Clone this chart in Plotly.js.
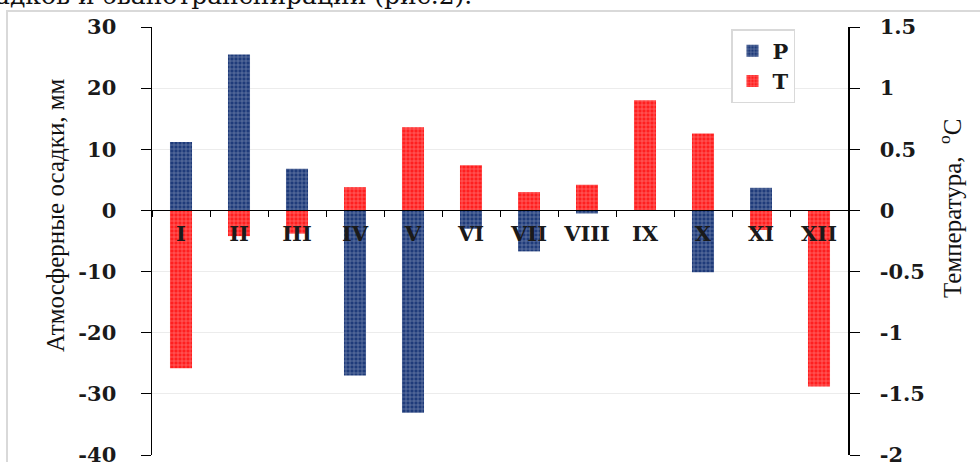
<!DOCTYPE html>
<html>
<head>
<meta charset="utf-8">
<script src="https://cdn.plot.ly/plotly-3.0.1.min.js"></script>
<style>html,body{margin:0;padding:0;background:#fff;}#chart{width:980px;height:462px;}</style>
</head>
<body>
<div id="chart"></div>
<script>
const months = ["I","II","III","IV","V","VI","VII","VIII","IX","X","XI","XII"];
const precipitation = [11.2, 25.5, 6.8, -27.0, -33.1, -3.0, -6.7, -0.5, 0, -10.1, 3.7, 0];
const temperature = [-1.29, -0.21, -0.19, 0.19, 0.68, 0.37, 0.15, 0.21, 0.9, 0.63, -0.16, -1.44];
const leftTickVals = [-40, -30, -20, -10, 0, 10, 20, 30];
const leftTickText = ["-40", "-30", "-20", "-10", "0", "10", "20", "30"];
const rightTickVals = [-2, -1.5, -1, -0.5, 0, 0.5, 1, 1.5];
const rightTickText = ["-2", "-1.5", "-1", "-0.5", "0", "0.5", "1", "1.5"];

const tickFont = {family: "DejaVu Serif", size: 21, color: "#1a1a1a", weight: "bold"};
const titleFont = {family: "Liberation Serif", size: 25, color: "#111"};
const dotPattern = {shape: "+", size: 4, solidity: 0.3, fgcolor: "rgba(255,255,255,0.75)", fillmode: "overlay"};

const traces = [
  {
    type: "bar", name: "P", x: months, y: precipitation, yaxis: "y",
    width: 0.38,
    marker: {color: "#1f3b7a", line: {width: 0}, pattern: dotPattern}
  },
  {
    type: "bar", name: "T", x: months, y: temperature, yaxis: "y2",
    width: 0.38,
    marker: {color: "#ff1f1f", line: {width: 0}, pattern: dotPattern}
  }
];

const L = 152, R = 848, T = 27, B = 455;
const px = v => (v - L) / (R - L);
const py = v => (B - v) / (B - T);

const layout = {
  width: 980, height: 462,
  margin: {l: L, r: 980 - R, t: T, b: 462 - B},
  paper_bgcolor: "#fff", plot_bgcolor: "#fff",
  barmode: "overlay",
  showlegend: true,
  legend: {x: px(731), y: py(29), xanchor: "left", yanchor: "top",
    bordercolor: "#d9d9d9", borderwidth: 1.5, bgcolor: "#fff",
    font: {family: "DejaVu Serif", size: 21, color: "#1a1a1a", weight: "bold"},
    itemwidth: 30, tracegroupgap: 0},
  xaxis: {
    type: "category", anchor: "free", position: 4 / 7,
    showline: true, linecolor: "#000", linewidth: 1,
    ticks: "outside", ticklen: 6, tickcolor: "#000", tickson: "boundaries",
    showgrid: false, zeroline: false,
    tickfont: tickFont, ticklabelstandoff: 4
  },
  yaxis: {
    range: [-40, 30], tickvals: leftTickVals, ticktext: leftTickText,
    showline: true, linecolor: "#000", linewidth: 1.5,
    ticks: "outside", ticklen: 10, tickcolor: "#000",
    showgrid: true, gridcolor: "#ececec", gridwidth: 1,
    zeroline: true, zerolinecolor: "#000", zerolinewidth: 1,
    tickfont: tickFont, ticklabelstandoff: 20, ticklabeloverflow: "allow"
  },
  yaxis2: {
    range: [-2, 1.5], tickvals: rightTickVals, ticktext: rightTickText,
    overlaying: "y", side: "right",
    showline: true, linecolor: "#000", linewidth: 1.5,
    ticks: "outside", ticklen: 10, tickcolor: "#000",
    showgrid: false, zeroline: false,
    tickfont: tickFont, ticklabelstandoff: 16, ticklabeloverflow: "allow"
  },
  shapes: [
    {type: "rect", xref: "paper", yref: "paper", x0: px(7), x1: px(995), y0: py(475), y1: py(11),
      line: {color: "#d9d9d9", width: 2}, fillcolor: "rgba(0,0,0,0)", layer: "below"}
  ],
  annotations: [
    {text: "Атмосферные осадки, мм", textangle: -90, xref: "paper", yref: "paper",
      x: px(55), y: py(215), xanchor: "center", yanchor: "middle", showarrow: false, font: titleFont},
    {text: "Температура,  <sup>o</sup>C", textangle: -90, xref: "paper", yref: "paper",
      x: px(950), y: py(208), xanchor: "center", yanchor: "middle", showarrow: false, font: titleFont},
    {text: "осадков и эвапотранспирации (рис.2).", xref: "paper", yref: "paper",
      x: px(474), y: py(12), xanchor: "right", yanchor: "bottom", showarrow: false,
      font: {family: "DejaVu Serif", size: 25, color: "#111"}}
  ]
};

Plotly.newPlot("chart", traces, layout, {displayModeBar: false, staticPlot: true});
</script>
</body>
</html>
